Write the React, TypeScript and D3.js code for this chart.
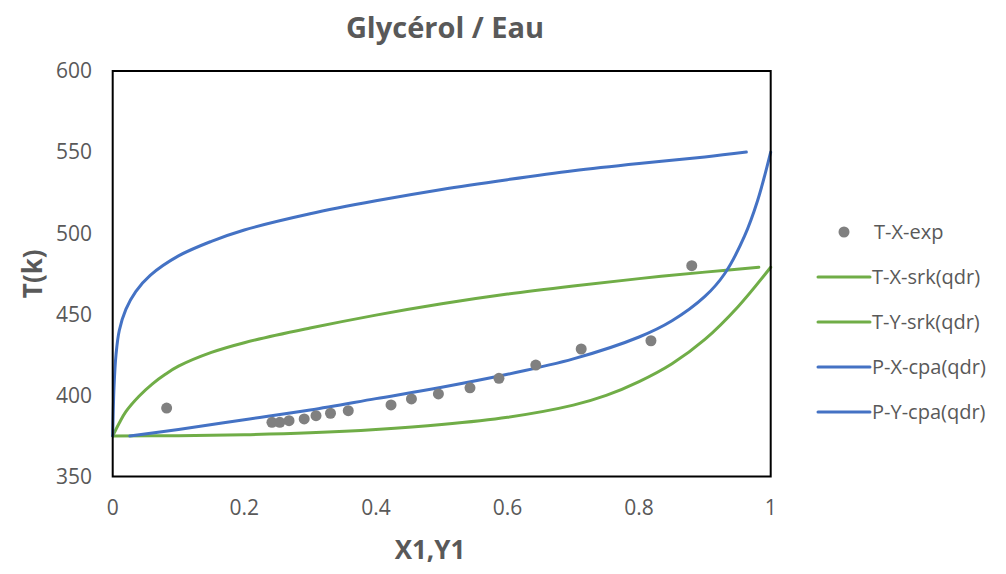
import React from "react";
import * as d3 from "d3";

const W = 1006;
const H = 574;

const xTicks = [0, 0.2, 0.4, 0.6, 0.8, 1];
const yTicks = [350, 400, 450, 500, 550, 600];

// Experimental T-X points
const expX = [0.082, 0.242, 0.254, 0.268, 0.291, 0.309, 0.331, 0.358, 0.423, 0.454, 0.495, 0.543, 0.587, 0.643, 0.712, 0.818, 0.88];
const expT = [392.2, 383.4, 383.4, 384.4, 385.5, 387.5, 389.0, 390.6, 394.1, 397.8, 400.9, 404.7, 410.5, 418.7, 428.6, 433.7, 480.0];

// T-X-srk(qdr) (lower green)
const srkXx = [0, 0.1, 0.2, 0.3, 0.4, 0.5, 0.6, 0.7, 0.75, 0.8, 0.85, 0.9, 0.95, 1.0];
const srkXt = [375, 375.2, 375.8, 377, 379, 382, 386.5, 394, 400, 408.5, 419.5, 434.5, 454.5, 479];

// T-Y-srk(qdr) (upper green)
const srkYx = [0, 0.01, 0.02, 0.04, 0.06, 0.08, 0.1, 0.15, 0.2, 0.3, 0.4, 0.5, 0.6, 0.7, 0.8, 0.9, 0.982];
const srkYt = [375, 383, 390, 399.5, 407, 413, 418, 426.5, 432.5, 441.5, 449.5, 456.5, 462.5, 467.5, 472, 476, 479];

// P-X-cpa(qdr) (lower blue)
const cpaXx = [0.026, 0.1, 0.2, 0.3, 0.4, 0.5, 0.6, 0.7, 0.8, 0.85, 0.9, 0.93, 0.96, 0.98, 1.0];
const cpaXt = [375, 379, 385, 391, 398, 405, 413, 422.5, 436, 446, 461, 475, 498, 520, 550];

// P-Y-cpa(qdr) (upper blue)
const cpaYx = [0, 0.002, 0.005, 0.01, 0.02, 0.035, 0.057, 0.1, 0.15, 0.2, 0.3, 0.4, 0.5, 0.6, 0.7, 0.8, 0.9, 0.963];
const cpaYt = [375, 405, 425, 440, 453, 464, 474, 486, 495, 502, 512, 520, 527, 533, 538.5, 543, 547, 550];

const legendLabels = ["T-X-exp", "T-X-srk(qdr)", "T-Y-srk(qdr)", "P-X-cpa(qdr)", "P-Y-cpa(qdr)"];

const GREEN = "#70AD47";
const BLUE = "#4472C4";
const GREY = "#808080";
const TEXT = "#595959";
const FONT = "'Open Sans', 'Liberation Sans', sans-serif";

export default function App() {
  const left = 112.7, right = 770.7, top = 71, bottom = 476.5;
  const x = d3.scaleLinear().domain([0, 1]).range([left, right]);
  const y = d3.scaleLinear().domain([350, 600]).range([bottom, top]);
  const line = d3
    .line<[number, number]>()
    .x((d) => x(d[0]))
    .y((d) => y(d[1]))
    .curve(d3.curveCatmullRom.alpha(0.5));
  const zip = (a: number[], b: number[]) => a.map((v, i) => [v, b[i]] as [number, number]);

  const series = [
    { d: zip(srkXx, srkXt), c: GREEN },
    { d: zip(srkYx, srkYt), c: GREEN },
    { d: zip(cpaXx, cpaXt), c: BLUE },
    { d: zip(cpaYx, cpaYt), c: BLUE },
  ];
  const legendY = [232, 277, 322, 367, 412];
  const legendColors = [GREY, GREEN, GREEN, BLUE, BLUE];

  return (
    <svg width={W} height={H} style={{ position: "absolute", left: 0, top: 0, background: "#fff" }} fontFamily={FONT}>
      <rect x={0} y={0} width={W} height={H} fill="#fff" />
      <text x={445} y={28} dy="0.35em" textAnchor="middle" fontSize={29} fontWeight="bold" fill={TEXT}>
        Glycérol / Eau
      </text>
      {yTicks.map((t) => (
        <text key={"y" + t} x={92} y={y(t)} dy="0.35em" textAnchor="end" fontSize={21} fill={TEXT}>
          {t}
        </text>
      ))}
      {xTicks.map((t) => (
        <text key={"x" + t} x={x(t)} y={508} dy="0.35em" textAnchor="middle" fontSize={21} fill={TEXT}>
          {t}
        </text>
      ))}
      <text x={430} y={550} dy="0.35em" textAnchor="middle" fontSize={26} fontWeight="bold" fill={TEXT}>
        X1,Y1
      </text>
      <text
        transform={`translate(33,${(top + bottom) / 2}) rotate(-90)`}
        textAnchor="middle"
        dy="0.35em"
        fontSize={26}
        fontWeight="bold"
        fill={TEXT}
      >
        T(k)
      </text>
      {series.map((s, i) => (
        <path key={i} d={line(s.d) || ""} fill="none" stroke={s.c} strokeWidth={3} strokeLinecap="round" />
      ))}
      {expX.map((v, i) => (
        <circle key={i} cx={x(v)} cy={y(expT[i])} r={5.5} fill={GREY} />
      ))}
      <rect x={left} y={top} width={right - left} height={bottom - top} fill="none" stroke="#000" strokeWidth={2} />
      {legendLabels.map((l, i) => (
        <g key={l}>
          {i === 0 ? (
            <circle cx={844} cy={legendY[i]} r={5.5} fill={GREY} />
          ) : (
            <line x1={818} x2={870} y1={legendY[i]} y2={legendY[i]} stroke={legendColors[i]} strokeWidth={3} strokeLinecap="round" />
          )}
          <text x={i === 0 ? 874 : 872} y={legendY[i]} dy="0.35em" fontSize={20} fill={TEXT}>
            {l}
          </text>
        </g>
      ))}
    </svg>
  );
}
